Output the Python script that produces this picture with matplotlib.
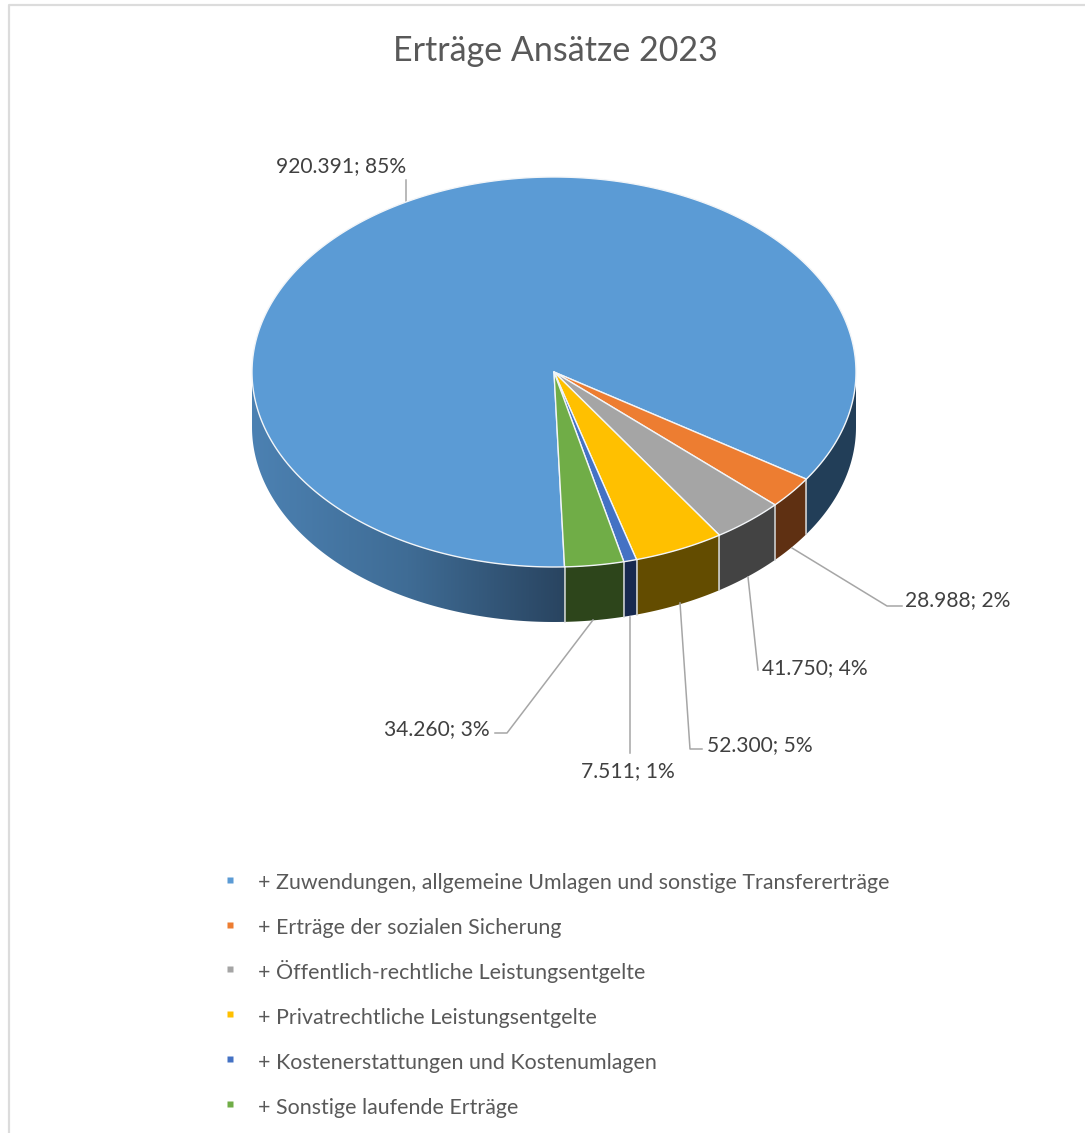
import numpy as np
import matplotlib
matplotlib.use("Agg")
import matplotlib.pyplot as plt
from matplotlib.colors import LinearSegmentedColormap
from matplotlib.lines import Line2D
from matplotlib.patches import Polygon

plt.rcParams['font.family'] = ['Lato', 'DejaVu Sans']

title = 'Erträge Ansätze 2023'
categories = ['+ Zuwendungen, allgemeine Umlagen und sonstige Transfererträge',
              '+ Erträge der sozialen Sicherung',
              '+ Öffentlich-rechtliche Leistungsentgelte',
              '+ Privatrechtliche Leistungsentgelte',
              '+ Kostenerstattungen und Kostenumlagen',
              '+ Sonstige laufende Erträge']
values = [920391, 28988, 41750, 52300, 7511, 34260]
value_labels = ['920.391; 85%', '28.988; 2%', '41.750; 4%', '52.300; 5%', '7.511; 1%', '34.260; 3%']
colors = ['#5B9BD5', '#ED7D31', '#A5A5A5', '#FFC000', '#4472C4', '#70AD47']
wall_colors = ['#223E58', '#5F3012', '#434343', '#634C00', '#17294F', '#2D451B']

# pie geometry in screen pixels
cx, cy, rx, ry, depth = 554, 372, 302, 195, 55
start = 88

fig = plt.figure(figsize=(10.85, 11.33), dpi=100)
ax = fig.add_axes([0, 0, 1, 1])
ax.axis('off')

def rim(t):
    t = np.radians(t)
    return cx + rx*np.cos(t), cy + ry*np.sin(t)

def wall(t0, t1):
    t = np.linspace(t0, t1, 120)
    x, y = rim(t)
    return np.r_[np.c_[x, y], np.c_[x[::-1], y[::-1] + depth]]

# chart frame, only top and left show in the crop
ax.plot([1085, 9, 9], [4.5, 4.5, 1133], color='#DCDCDC', lw=1.6, zorder=0)

angles = start + np.r_[0, np.cumsum(values)] / sum(values) * 360

# front walls, clockwise in screen space
for i in range(len(values)):
    a, b = angles[i], angles[i+1]
    if i == 0:
        # biggest slice: gradient wall on the left, flat one on the right
        poly = Polygon(wall(a, 180), fc='none', ec='none')
        ax.add_patch(poly)
        cmap = LinearSegmentedColormap.from_list('w', ['#4C81B2', '#3F6C95', '#294460'])
        im = ax.imshow(np.linspace(0, 1, 256)[None, :], cmap=cmap, aspect='auto',
                       extent=(cx-rx, rim(a)[0], cy+ry+depth, cy), zorder=1)
        im.set_clip_path(poly)
        ax.add_patch(Polygon(wall(360, b), fc=wall_colors[0], ec='none', zorder=1))
    else:
        ax.add_patch(Polygon(wall(a-360, b-360), fc=wall_colors[i], ec='none', zorder=1))

for a in angles[1:-1]:
    x, y = rim(a)
    ax.plot([x, x], [y, y+depth], color='#D5D8DA', lw=1.1, zorder=2)
x, y = rim(start)
ax.plot([x, x], [y, y+depth], color='#D5D8DA', lw=1.1, zorder=2)

# top face
for i in range(len(values)):
    x, y = rim(np.linspace(angles[i], angles[i+1], 400))
    ax.add_patch(Polygon(np.r_[[[cx, cy]], np.c_[x, y]], fc=colors[i], ec='#F2F5F8', lw=1.0,
                         joinstyle='round', zorder=3))

# leader lines
leaders = [[(406, 180), (406, 202)],
           [(792, 548), (887, 606), (902, 606)],
           [(748, 577), (758, 670)],
           [(680, 603), (690, 749), (702, 749)],
           [(630, 617), (630, 753)],
           [(593, 620), (507, 733), (495, 733)]]
for pts in leaders:
    ax.plot(*zip(*pts), color='#A6A6A6', lw=1.1, zorder=2)

# data labels
lab_pos = [(406, 166, 'right'), (905, 600, 'left'), (762, 668, 'left'),
           (707, 745, 'left'), (628, 771, 'center'), (490, 729, 'right')]
for s, (x, y, ha) in zip(value_labels, lab_pos):
    ax.text(x, y, s, ha=ha, va='center', fontsize=15.1, color='#404040')

ax.text(555, 51, title, ha='center', va='center', fontsize=24.5, color='#595959')

# legend, handleheight keeps the rows even
handles = [Line2D([], [], ls='none', marker='s', ms=4.6, mfc=c, mec='none') for c in colors]
ax.legend(handles, categories, loc='upper left', bbox_to_anchor=(225, 870), bbox_transform=ax.transData,
          frameon=False, fontsize=15.4, labelcolor='#595959', borderpad=0, borderaxespad=0,
          handlelength=0.5, handleheight=1.4, handletextpad=1.05, labelspacing=0.94)

ax.set_xlim(0, 1085)
ax.set_ylim(1133, 0)
fig.savefig('out.png', dpi=100)
